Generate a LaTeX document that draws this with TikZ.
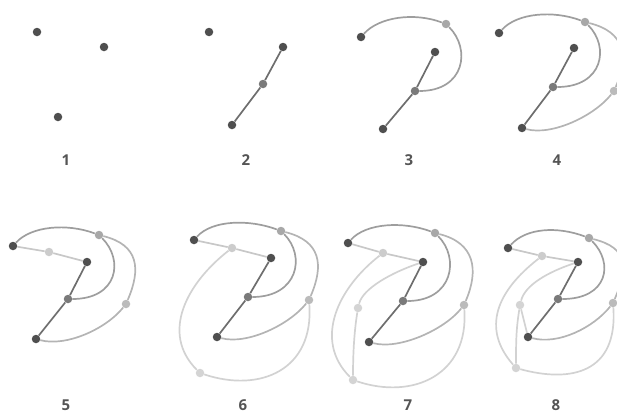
\documentclass[tikz,border=0pt]{standalone}
\usepackage{fontspec}
\setsansfont{Open Sans}
\usetikzlibrary{backgrounds}
\definecolor{dotdark}{HTML}{4F4F4F}
\definecolor{dotmid}{HTML}{7A7A7A}
\definecolor{dottop}{HTML}{A8A8A8}
\definecolor{dotright}{HTML}{BBBBBB}
\definecolor{dotlight}{HTML}{CCCCCC}
\definecolor{dotpale}{HTML}{D4D4D4}
\definecolor{linedark}{HTML}{6E6E6E}
\definecolor{linearc}{HTML}{9E9E9E}
\definecolor{lineouter}{HTML}{B4B4B4}
\definecolor{linelight}{HTML}{C8C8C8}
\definecolor{linepale}{HTML}{D2D2D2}
\definecolor{numgray}{HTML}{555555}
\begin{document}
\begin{tikzpicture}[x=1pt,y=-1pt,
    vtx/.style={circle,fill=#1,inner sep=0pt,minimum size=8.5pt},
    vtx/.default=dotdark,
    link/.style={line width=1.7pt,draw=#1},
    num/.style={font=\sffamily\bfseries\fontsize{15}{15}\selectfont,text=numgray,inner sep=1pt}]
    \useasboundingbox (0,0) rectangle (617,415);

    % 1: three points
    \node[vtx] (a1) at (37,32) {};
    \node[vtx] (b1) at (104,47) {};
    \node[vtx] (c1) at (58,117) {};
    \node[num] (n1) at (66,160) {1};

    % 2: first edge
    \node[vtx] (a2) at (209,32) {};
    \node[vtx] (b2) at (283,47) {};
    \node[vtx=dotmid] (m2) at (263,84) {};
    \node[vtx] (c2) at (232,125) {};
    \node[num] (n2) at (246,160) {2};
    \begin{scope}[on background layer]
        \draw[link=linedark] (c2) -- (m2) -- (b2);
    \end{scope}

    % 3: arc over the top
    \node[vtx] (a3) at (361,37) {};
    \node[vtx=dottop] (t3) at (446,24) {};
    \node[vtx] (d3) at (435,52) {};
    \node[vtx=dotmid] (m3) at (415,91) {};
    \node[vtx] (c3) at (383,129) {};
    \node[num] (n3) at (409,160) {3};
    \begin{scope}[on background layer]
        \draw[link=linearc] (a3) .. controls +(18,-20) and +(-32,-12) .. (t3);
        \draw[link=linearc] (t3) .. controls +(25,25) and +(50,0) .. (m3);
        \draw[link=linedark] (c3) -- (m3) -- (d3);
    \end{scope}

    % 4: outer arc
    \node[vtx] (a4) at (499,33) {};
    \node[vtx=dottop] (t4) at (585,22) {};
    \node[vtx] (d4) at (574,48) {};
    \node[vtx=dotmid] (m4) at (553,87) {};
    \node[vtx] (c4) at (522,128) {};
    \node[vtx=dotright] (r4) at (614,91) {};
    \node[num] (n4) at (557,160) {4};
    \begin{scope}[on background layer]
        \draw[link=lineouter] (t4) .. controls +(40,10) and +(15,-35) .. (r4);
        \draw[link=lineouter] (r4) .. controls +(-20,25) and +(30,8) .. (c4);
        \draw[link=linearc] (a4) .. controls +(18,-20) and +(-32,-12) .. (t4);
        \draw[link=linearc] (t4) .. controls +(25,25) and +(50,0) .. (m4);
        \draw[link=linedark] (c4) -- (m4) -- (d4);
    \end{scope}

    % 5: light edge from the left point
    \node[vtx] (a5) at (13,246) {};
    \node[vtx=dotlight] (s5) at (49,252) {};
    \node[vtx] (d5) at (87,262) {};
    \node[vtx=dotmid] (m5) at (68,299) {};
    \node[vtx] (c5) at (36,339) {};
    \node[vtx=dottop] (t5) at (99,235) {};
    \node[vtx=dotright] (r5) at (126,304) {};
    \node[num] (n5) at (66,405) {5};
    \begin{scope}[on background layer]
        \draw[link=linelight] (a5) -- (s5) -- (d5);
        \draw[link=lineouter] (t5) .. controls +(40,10) and +(15,-35) .. (r5);
        \draw[link=lineouter] (r5) .. controls +(-20,25) and +(30,8) .. (c5);
        \draw[link=linearc] (a5) .. controls +(18,-20) and +(-32,-12) .. (t5);
        \draw[link=linearc] (t5) .. controls +(25,25) and +(50,0) .. (m5);
        \draw[link=linedark] (c5) -- (m5) -- (d5);
    \end{scope}

    % 6: loop round the left
    \node[vtx] (a6) at (194,240) {};
    \node[vtx=dotlight] (s6) at (232,248) {};
    \node[vtx] (d6) at (271,258) {};
    \node[vtx=dotmid] (m6) at (248,297) {};
    \node[vtx] (c6) at (217,337) {};
    \node[vtx=dottop] (t6) at (281,231) {};
    \node[vtx=dotright] (r6) at (309,300) {};
    \node[vtx=dotpale] (v6) at (200,373) {};
    \node[num] (n6) at (243,405) {6};
    \begin{scope}[on background layer]
        \draw[link=linepale] (s6) .. controls +(-45,35) and +(-40,-40) .. (v6);
        \draw[link=linepale] (r6) .. controls +(5,70) and +(60,20) .. (v6);
        \draw[link=linelight] (a6) -- (s6) -- (d6);
        \draw[link=lineouter] (t6) .. controls +(40,10) and +(15,-35) .. (r6);
        \draw[link=lineouter] (r6) .. controls +(-20,25) and +(30,8) .. (c6);
        \draw[link=linearc] (a6) .. controls +(18,-20) and +(-32,-12) .. (t6);
        \draw[link=linearc] (t6) .. controls +(25,25) and +(50,0) .. (m6);
        \draw[link=linedark] (c6) -- (m6) -- (d6);
    \end{scope}

    % 7: inner pale point
    \node[vtx] (a7) at (348,243) {};
    \node[vtx=dotlight] (s7) at (383,253) {};
    \node[vtx] (d7) at (423,262) {};
    \node[vtx=dotmid] (m7) at (403,301) {};
    \node[vtx] (c7) at (369,342) {};
    \node[vtx=dottop] (t7) at (435,233) {};
    \node[vtx=dotright] (r7) at (464,305) {};
    \node[vtx=dotpale] (u7) at (358,308) {};
    \node[vtx=dotpale] (v7) at (353,380) {};
    \node[num] (n7) at (408,405) {7};
    \begin{scope}[on background layer]
        \draw[link=linepale] (s7) .. controls +(-45,35) and +(-40,-40) .. (v7);
        \draw[link=linepale] (r7) .. controls +(5,70) and +(60,20) .. (v7);
        \draw[link=linepale] (d7) .. controls +(-30,10) and +(5,-20) .. (u7);
        \draw[link=linepale] (u7) .. controls +(-4,25) and +(0,-25) .. (v7);
        \draw[link=linelight] (a7) -- (s7) -- (d7);
        \draw[link=lineouter] (t7) .. controls +(40,10) and +(15,-35) .. (r7);
        \draw[link=lineouter] (r7) .. controls +(-20,25) and +(30,8) .. (c7);
        \draw[link=linearc] (a7) .. controls +(18,-20) and +(-32,-12) .. (t7);
        \draw[link=linearc] (t7) .. controls +(25,25) and +(50,0) .. (m7);
        \draw[link=linedark] (c7) -- (m7) -- (d7);
    \end{scope}

    % 8: last edge
    \node[vtx] (a8) at (508,248) {};
    \node[vtx=dotlight] (s8) at (542,256) {};
    \node[vtx] (d8) at (578,262) {};
    \node[vtx=dotmid] (m8) at (558,299) {};
    \node[vtx] (c8) at (528,337) {};
    \node[vtx=dottop] (t8) at (589,238) {};
    \node[vtx=dotright] (r8) at (613,303) {};
    \node[vtx=dotpale] (u8) at (520,305) {};
    \node[vtx=dotpale] (v8) at (516,368) {};
    \node[num] (n8) at (556,405) {8};
    \begin{scope}[on background layer]
        \draw[link=linepale] (s8) .. controls +(-45,35) and +(-35,-40) .. (v8);
        \draw[link=linepale] (r8) .. controls +(5,70) and +(55,15) .. (v8);
        \draw[link=linepale] (d8) .. controls +(-30,10) and +(5,-20) .. (u8);
        \draw[link=linepale] (u8) .. controls +(-4,25) and +(0,-25) .. (v8);
        \draw[link=linepale] (u8) -- (c8);
        \draw[link=linelight] (a8) -- (s8) -- (d8);
        \draw[link=lineouter] (t8) .. controls +(40,10) and +(15,-35) .. (r8);
        \draw[link=lineouter] (r8) .. controls +(-20,25) and +(30,8) .. (c8);
        \draw[link=linearc] (a8) .. controls +(18,-20) and +(-32,-12) .. (t8);
        \draw[link=linearc] (t8) .. controls +(25,25) and +(50,0) .. (m8);
        \draw[link=linedark] (c8) -- (m8) -- (d8);
    \end{scope}
\end{tikzpicture}
\end{document}
